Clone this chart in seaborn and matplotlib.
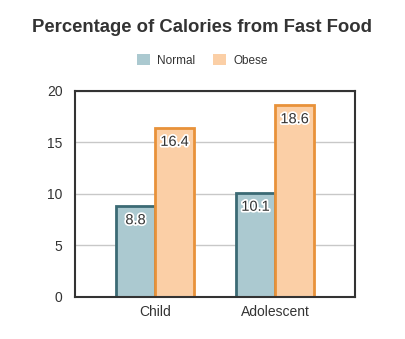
import matplotlib
matplotlib.use("Agg")
import matplotlib.pyplot as plt
import matplotlib.patheffects as pe
import seaborn as sns
import pandas as pd

categories = ["Child", "Adolescent"]
groups = ["Normal", "Obese"]
normal_vals = [8.8, 10.1]
obese_vals = [16.4, 18.6]

df = pd.DataFrame({
    "age": categories * 2,
    "group": [groups[0]] * 2 + [groups[1]] * 2,
    "pct": normal_vals + obese_vals,
})

sns.set_theme(style="white")
plt.rcParams["font.family"] = ["Liberation Sans", "DejaVu Sans"]

fills = {"Normal": "#abc9d0", "Obese": "#fbcfa6"}
edges = {"Normal": "#3b6a74", "Obese": "#e8923a"}

fig = plt.figure(figsize=(4.05, 3.39), dpi=100)
ax = fig.add_axes([0.185, 0.124, 0.692, 0.608])

sns.barplot(data=df, x="age", y="pct", hue="group", hue_order=groups,
            palette=fills, width=0.65, gap=0, ax=ax, legend=False,
            linewidth=2, saturation=1)

for container, g in zip(ax.containers, groups):
    for bar in container:
        bar.set_edgecolor(edges[g])
        bar.set_linewidth(2)
    for bar in container:
        v = bar.get_height()
        ax.text(bar.get_x() + bar.get_width() / 2, v - 1.35, f"{v:.1f}",
                ha="center", va="center", fontsize=10.5, color="#333333",
                path_effects=[pe.withStroke(linewidth=2.5, foreground="white")])

ax.set_ylim(0, 20)
ax.set_xlim(-0.667, 1.667)
ax.set_yticks([0, 5, 10, 15, 20])
ax.yaxis.grid(True, color="#c8c8c8", linewidth=1)
ax.set_axisbelow(True)
for s in ax.spines.values():
    s.set_color("#333333")
    s.set_linewidth(1.5)
ax.set_xlabel("")
ax.set_ylabel("")
ax.tick_params(axis="both", labelsize=10, colors="#333333", length=0, pad=6)
for lbl in ax.get_xticklabels() + ax.get_yticklabels():
    lbl.set_color("#333333")
ax.tick_params(axis="y", pad=9)

fig.text(0.5, 0.918, "Percentage of Calories from Fast Food", ha="center",
         va="center", fontsize=13.3, fontweight="bold", color="#333333")

handles = [plt.Rectangle((0, 0), 1, 1, facecolor=fills[g], edgecolor="none")
           for g in groups]
fig.legend(handles, groups, loc="center", bbox_to_anchor=(0.5, 0.822), ncol=2,
           frameon=False, fontsize=8.5, handlelength=1.1, handleheight=1.1,
           columnspacing=1.5, handletextpad=0.6, labelcolor="#333333")

fig.savefig("out.png", dpi=100, facecolor="white")
